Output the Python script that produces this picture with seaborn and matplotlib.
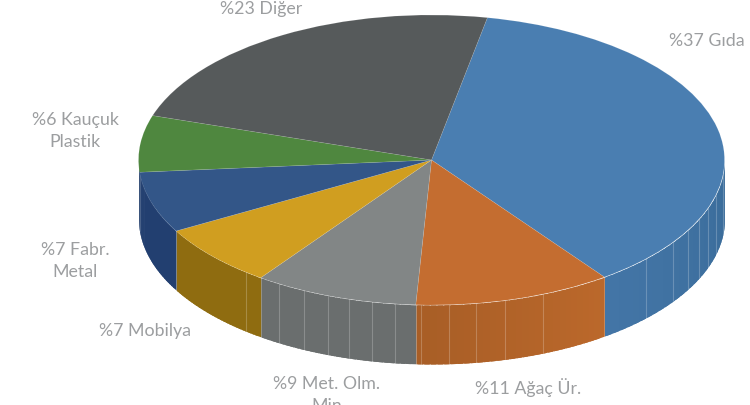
import numpy as np
import matplotlib
matplotlib.use("Agg")
import matplotlib.pyplot as plt
import matplotlib.colors as mc
import seaborn as sns

# ---- data
categories = ["Gıda", "Ağaç Ür.", "Met. Olm. Min", "Mobilya", "Fabr. Metal", "Kauçuk Plastik", "Diğer"]
shares = [36.9, 10.9, 9.05, 6.95, 6.8, 6.3, 23.1]
label_texts = ["%37 Gıda", "%11 Ağaç Ür.", "%9 Met. Olm.\nMin", "%7 Mobilya", "%7 Fabr.\nMetal", "%6 Kauçuk\nPlastik", "%23 Diğer"]

# ---- style
top_colors = ["#4A7EB1", "#C46D30", "#828686", "#D09E20", "#335688", "#4F873F", "#565A5B"]
wall_start = ["#3A6C9A", "#BB682B", "#6A6E6E", "#8F6C10", "#223F70", "#223F70", "#45484A"]
wall_end = ["#4375A6", "#A85E26", "#6A6E6E", "#8F6C10", "#223F70", "#223F70", "#45484A"]
label_xy = [(707, 41), (528, 388), (327, 395), (145, 331), (75, 261), (75, 131), (261, 9)]
rib_angles = [96, 103.8, 109.3, 114.1, 118.9, 124.5, 132.9, 157.6, 165.4, 171.2, 176.5, 182,
              187.2, 191.8, 196.4, 200.7, 205.9, 211.4, 219.3]
W, H = 750, 405
CX, CY, RX, RY, DEPTH = 431.5, 160, 293, 145, 59
START = 11.0  # clockwise from the top, in degrees
TEXT = "#9C9EA0"

sns.set_theme(style="white")
plt.rcParams["font.family"] = ["Lato", "DejaVu Sans"]

fig = plt.figure(figsize=(W / 100, H / 100), dpi=100)
ax = fig.add_axes([0, 0, 1, 1])
palette = sns.color_palette(top_colors)

depth = DEPTH / RY
edges = START + np.concatenate([[0], np.cumsum(shares)]) * 3.6


def px(t):
    return np.sin(np.radians(t))


def py(t):
    return np.cos(np.radians(t))


# walls of the visible front half, shaded along the rim
for i in range(len(shares)):
    a, b = max(edges[i], 90), min(edges[i + 1], 270)
    if b <= a:
        continue
    ts = np.linspace(a, b, 31)
    c0, c1 = np.array(mc.to_rgb(wall_start[i])), np.array(mc.to_rgb(wall_end[i]))
    for j in range(len(ts) - 1):
        f = j / (len(ts) - 2)
        col = c0 * (1 - f) + c1 * f
        seg = np.linspace(ts[j], min(ts[j] + (ts[1] - ts[0]) * 1.8, b), 5)
        ax.fill_between(px(seg), py(seg), py(seg) - depth, color=col, lw=0, zorder=1)

# faint ribs on the wall
for t in rib_angles:
    ax.plot([px(t), px(t)], [py(t), py(t) - depth], color="white", alpha=0.22, lw=0.8, zorder=2)
for e in edges:
    t = e % 360
    if 90 < t < 270:
        ax.plot([px(t), px(t)], [py(t), py(t) - depth], color="white", alpha=0.15, lw=0.6, zorder=2)

# top face
wedges, _ = ax.pie(shares, colors=palette, startangle=90 - START, counterclock=False, radius=1,
                   center=(0, 0), wedgeprops=dict(edgecolor=(1, 1, 1, 0.12), linewidth=0.5, zorder=3))

ax.set_aspect("auto")
ax.set_xlim(-CX / RX, (W - CX) / RX)
ax.set_ylim((CY - H) / RY, CY / RY)
ax.axis("off")

for txt, (x, y) in zip(label_texts, label_xy):
    ax.text(x / W, 1 - y / H, txt, transform=ax.transAxes, ha="center", va="center",
            color=TEXT, fontsize=12.8, linespacing=1.42, clip_on=True, zorder=5)

fig.savefig("out.png", dpi=100)
